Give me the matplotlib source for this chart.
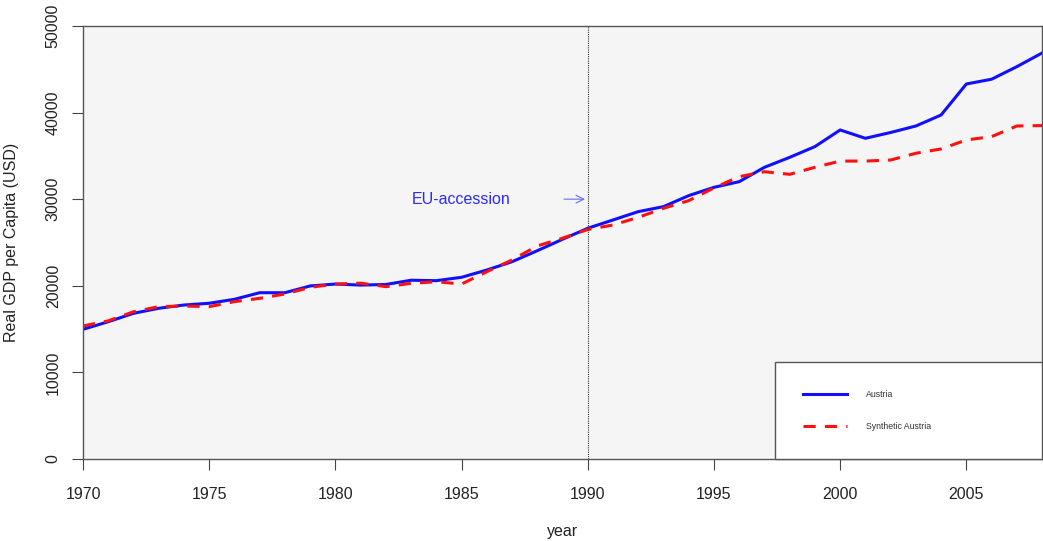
import numpy as np
import matplotlib.pyplot as plt

plt.rcParams['font.family'] = ['Liberation Sans', 'DejaVu Sans']

years = np.arange(1970, 2009)

# real GDP per capita, Austria vs. synthetic control
austria = [14970, 15850, 16820, 17400, 17780, 17980, 18440, 19200, 19200, 19980,
           20200, 20080, 20150, 20640, 20590, 20980, 21820, 22780, 24050, 25370,
           26640, 27600, 28560, 29140, 30410, 31370, 32020, 33680, 34830, 36070,
           37990, 37030, 37700, 38450, 39720, 43300, 43850, 45300, 46880]
synthetic = [15360, 15950, 17000, 17590, 17660, 17590, 18170, 18550, 19050, 19820,
             20200, 20300, 19900, 20280, 20470, 20200, 21630, 22980, 24600, 25500,
             26500, 27020, 27900, 28950, 29830, 31300, 32600, 33170, 32870, 33680,
             34400, 34400, 34520, 35300, 35800, 36840, 37220, 38450, 38500]

treat_year = 1990
label_y = 30000

fig = plt.figure(figsize=(10.43, 5.41), dpi=100)
ax = fig.add_axes([0.0796, 0.1516, 0.9195, 0.8004])
ax.set_facecolor('#f5f5f5')

ax.plot(years, austria, color='#1010ff', lw=2.2, label='Austria')
ax.plot(years, synthetic, color='#ff1010', lw=2.2, ls=(0, (4, 3)), label='Synthetic Austria')

ax.axvline(treat_year, color='#333333', lw=0.8, ls=(0, (1, 1)))
ax.annotate('', xy=(treat_year, label_y), xytext=(treat_year - 1.05, label_y),
            arrowprops=dict(arrowstyle='->', color='#6a6aff', lw=0.8, mutation_scale=14))
ax.text(1985, label_y, 'EU-accession', color='#2a2aff', fontsize=11.5,
        ha='center', va='center')

ax.set_xlim(1970, 2008)
ax.set_ylim(0, 50000)
ax.set_xticks(np.arange(1970, 2010, 5))
ax.set_yticks(np.arange(0, 50001, 10000))
ax.tick_params(axis='both', labelsize=11.5, length=8, color='#444444', labelcolor='#222222')
ax.tick_params(axis='x', pad=12)
ax.tick_params(axis='y', pad=8)
for lbl in ax.get_yticklabels():
    lbl.set_rotation(90)
    lbl.set_va('center')

for sp in ax.spines.values():
    sp.set_color('#555555')
    sp.set_linewidth(1.0)

ax.set_xlabel('year', fontsize=11.5, labelpad=16, color='#222222')
ax.set_ylabel('Real GDP per Capita (USD)', fontsize=11.5, labelpad=19, color='#222222')

leg = ax.legend(loc='lower left', bbox_to_anchor=(0.722, 0.0, 0.278, 0.2), mode='expand',
                fontsize=6.3, frameon=True, fancybox=False,
                borderpad=3.2, labelspacing=2.6, handlelength=5, handletextpad=2.2,
                borderaxespad=0, edgecolor='#555555', labelcolor='#333333')
leg.get_frame().set_facecolor('white')
leg.get_frame().set_linewidth(1.0)
leg.get_frame().set_alpha(1)

fig.savefig('out.png', dpi=100)
